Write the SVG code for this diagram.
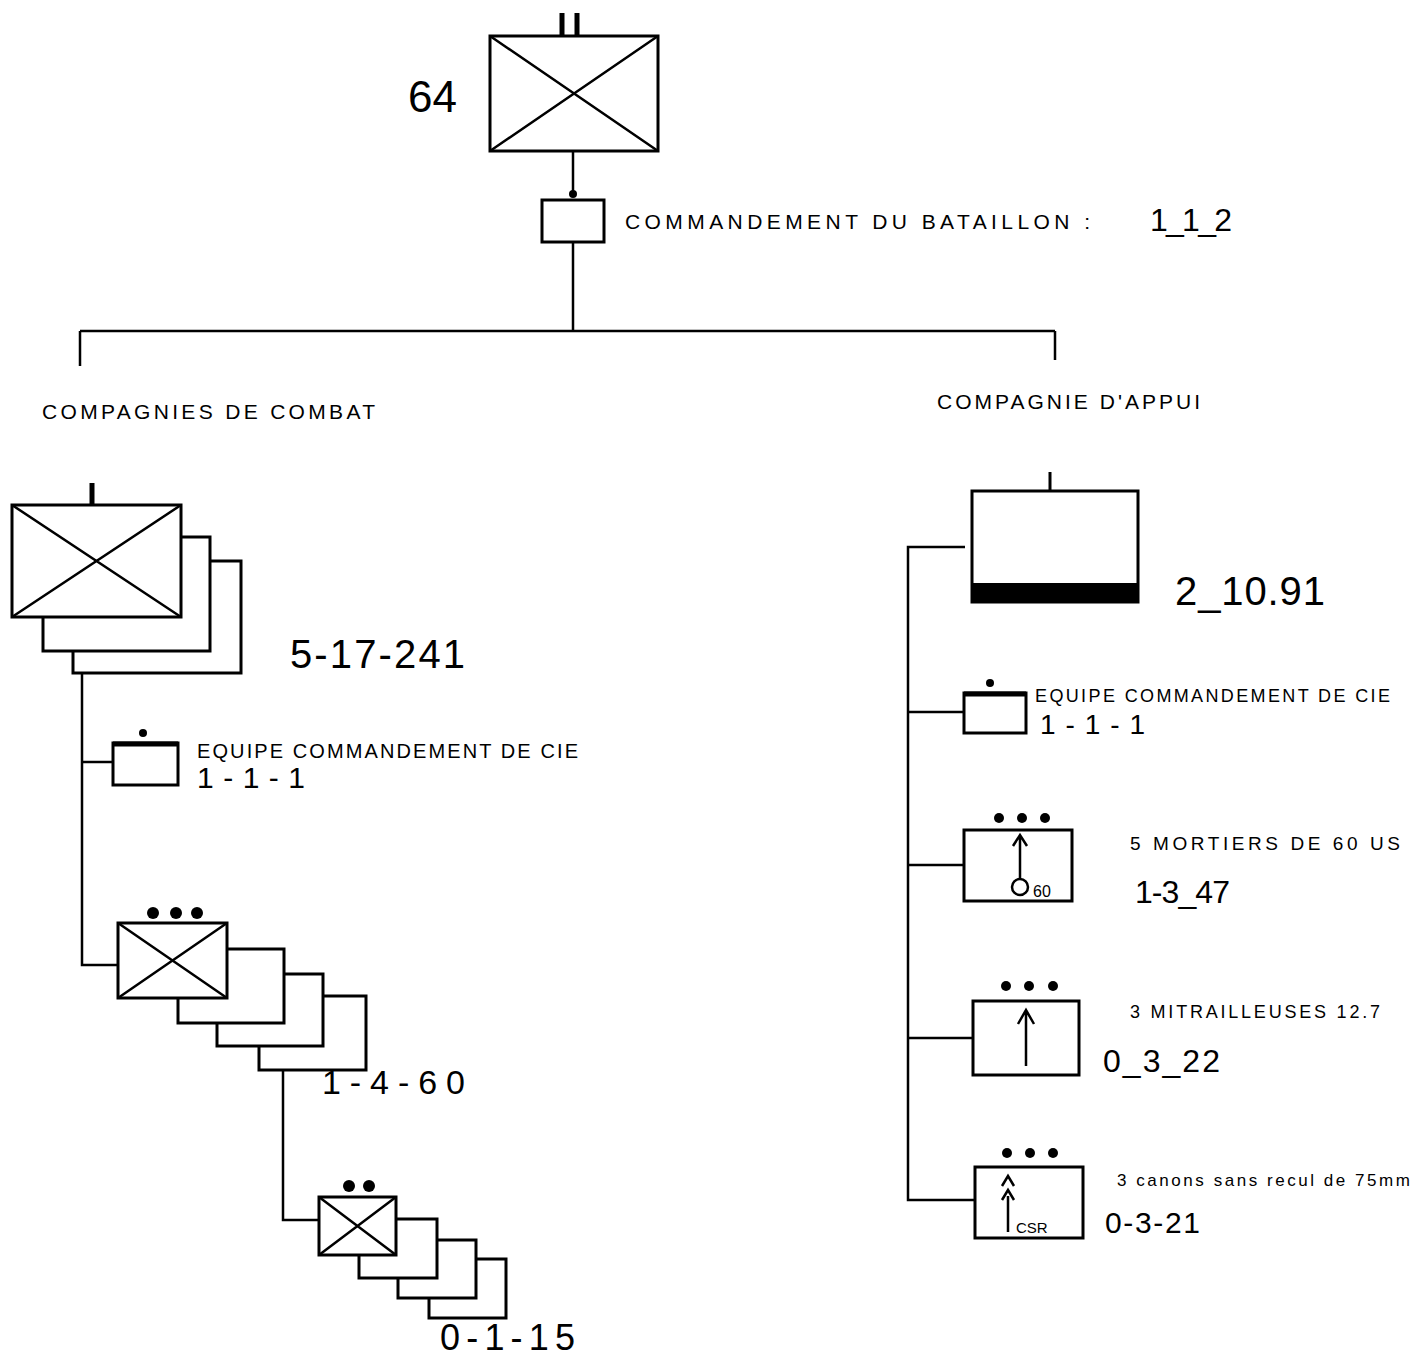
<svg xmlns="http://www.w3.org/2000/svg" width="1412" height="1360" viewBox="0 0 1412 1360">
<style>
.box{fill:#fff;stroke:#000;stroke-width:3}
.x{stroke:#000;stroke-width:2.5;fill:none}
.conn{stroke:#000;stroke-width:2.5;fill:none}
.t{font-family:"Liberation Sans",Arial,sans-serif;fill:#000}
.cap{font-size:21px}
.dot{fill:#000}
</style>
<rect width="1412" height="1360" fill="#fff"/>
<g id="connectors">
<path class="conn" d="M573,151 V196"/>
<path class="conn" d="M573,242 V330"/>
<path class="conn" d="M80,331 H1055 M80,331 V366 M1055,331 V360"/>
<path class="conn" d="M82,673 V965 H118"/>
<path class="conn" d="M82,762 H113"/>
<path class="conn" d="M283,1070 V1220 H319"/>
<path class="conn" d="M965,547 H908 V1200 H975"/>
<path class="conn" d="M908,712 H964"/>
<path class="conn" d="M908,865 H964"/>
<path class="conn" d="M908,1038 H973"/>
</g>
<g id="battalion">
<rect class="box" x="490" y="36" width="168" height="115"/>
<path class="x" d="M490,36 L658,151 M658,36 L490,151"/>
<path d="M562,13 V35 M577,13 V35" stroke="#000" stroke-width="5"/>
<text class="t" x="408" y="112" font-size="44">64</text>
</g>
<g id="cmd-battalion">
<circle class="dot" cx="573" cy="194" r="4"/>
<rect class="box" x="542" y="200" width="62" height="42"/>
<text class="t cap" x="625" y="229" textLength="465" lengthAdjust="spacing">COMMANDEMENT DU BATAILLON :</text>
<text class="t" x="1150" y="231" font-size="32" textLength="82" lengthAdjust="spacing">1_1_2</text>
</g>
<g id="label-combat">
<text class="t cap" x="42" y="419" textLength="333" lengthAdjust="spacing">COMPAGNIES DE COMBAT</text>
</g>
<g id="label-appui">
<text class="t cap" x="937" y="409" textLength="263" lengthAdjust="spacing">COMPAGNIE D'APPUI</text>
</g>
<g id="companies">
<rect class="box" x="73" y="561" width="168" height="112"/>
<rect class="box" x="43" y="537" width="167" height="114"/>
<rect class="box" x="12" y="505" width="169" height="112"/>
<path class="x" d="M12,505 L181,617 M181,505 L12,617"/>
<path d="M92,483 V505" stroke="#000" stroke-width="5"/>
<text class="t" x="290" y="668" font-size="40" textLength="175" lengthAdjust="spacing">5-17-241</text>
</g>
<g id="cmd-company-left">
<rect class="box" x="113" y="743" width="65" height="42"/>
<path d="M113,744 H178" stroke="#000" stroke-width="5"/>
<circle class="dot" cx="143" cy="733" r="4"/>
<text class="t" x="197" y="758" font-size="20" textLength="381" lengthAdjust="spacing">EQUIPE COMMANDEMENT DE CIE</text>
<text class="t" x="197" y="788" font-size="30" textLength="108" lengthAdjust="spacing">1-1-1</text>
</g>
<g id="platoons">
<rect class="box" x="259" y="996" width="107" height="74"/>
<rect class="box" x="217" y="974" width="106" height="72"/>
<rect class="box" x="178" y="949" width="106" height="74"/>
<rect class="box" x="118" y="923" width="109" height="75"/>
<path class="x" d="M118,923 L227,998 M227,923 L118,998"/>
<circle class="dot" cx="153" cy="913" r="6"/>
<circle class="dot" cx="176" cy="913" r="6"/>
<circle class="dot" cx="197" cy="913" r="6"/>
<text class="t" x="322" y="1094" font-size="34" textLength="143" lengthAdjust="spacing">1-4-60</text>
</g>
<g id="sections">
<rect class="box" x="429" y="1259" width="77" height="59"/>
<rect class="box" x="398" y="1240" width="78" height="58"/>
<rect class="box" x="359" y="1219" width="78" height="59"/>
<rect class="box" x="319" y="1197" width="77" height="58"/>
<path class="x" d="M319,1197 L396,1255 M396,1197 L319,1255"/>
<circle class="dot" cx="349" cy="1186" r="6"/>
<circle class="dot" cx="369" cy="1186" r="6"/>
<text class="t" x="440" y="1350" font-size="36" textLength="135" lengthAdjust="spacing">0-1-15</text>
</g>
<g id="support-company">
<rect class="box" x="972" y="491" width="166" height="111"/>
<rect x="972" y="583" width="166" height="19" fill="#000"/>
<path d="M1050,472 V491" stroke="#000" stroke-width="3"/>
<text class="t" x="1175" y="605" font-size="40" textLength="150" lengthAdjust="spacing">2_10.91</text>
</g>
<g id="cmd-company-right">
<rect class="box" x="964" y="693" width="62" height="40"/>
<path d="M964,694 H1026" stroke="#000" stroke-width="5"/>
<circle class="dot" cx="990" cy="683" r="4"/>
<text class="t" x="1035" y="702" font-size="18" textLength="355" lengthAdjust="spacing">EQUIPE COMMANDEMENT DE CIE</text>
<text class="t" x="1040" y="734" font-size="28" textLength="105" lengthAdjust="spacing">1-1-1</text>
</g>
<g id="mortars">
<rect class="box" x="964" y="830" width="108" height="71"/>
<circle class="dot" cx="999" cy="818" r="5"/>
<circle class="dot" cx="1022" cy="818" r="5"/>
<circle class="dot" cx="1045" cy="818" r="5"/>
<path class="x" d="M1020,878 V835 M1013,846 L1020,835 L1027,846"/>
<circle cx="1020" cy="887" r="8" fill="none" stroke="#000" stroke-width="2.5"/>
<text class="t" x="1033" y="897" font-size="16">60</text>
<text class="t" x="1130" y="850" font-size="19" textLength="270" lengthAdjust="spacing">5 MORTIERS DE 60 US</text>
<text class="t" x="1135" y="903" font-size="32" textLength="95" lengthAdjust="spacing">1-3_47</text>
</g>
<g id="machine-guns">
<rect class="box" x="973" y="1001" width="106" height="74"/>
<circle class="dot" cx="1006" cy="986" r="5"/>
<circle class="dot" cx="1029" cy="986" r="5"/>
<circle class="dot" cx="1053" cy="986" r="5"/>
<path class="x" d="M1026,1066 V1010 M1018,1024 L1026,1010 L1034,1024"/>
<text class="t" x="1130" y="1018" font-size="18" textLength="250" lengthAdjust="spacing">3 MITRAILLEUSES 12.7</text>
<text class="t" x="1103" y="1072" font-size="32" textLength="117" lengthAdjust="spacing">0_3_22</text>
</g>
<g id="recoilless">
<rect class="box" x="975" y="1167" width="108" height="71"/>
<circle class="dot" cx="1007" cy="1153" r="5"/>
<circle class="dot" cx="1030" cy="1153" r="5"/>
<circle class="dot" cx="1053" cy="1153" r="5"/>
<path class="x" d="M1002,1186 L1008,1176 L1014,1186 M1002,1200 L1008,1190 L1014,1200 M1008,1196 V1232"/>
<text class="t" x="1016" y="1233" font-size="15">CSR</text>
<text class="t" x="1117" y="1186" font-size="17" textLength="293" lengthAdjust="spacing">3 canons sans recul de 75mm</text>
<text class="t" x="1105" y="1233" font-size="30" textLength="95" lengthAdjust="spacing">0-3-21</text>
</g>
</svg>
